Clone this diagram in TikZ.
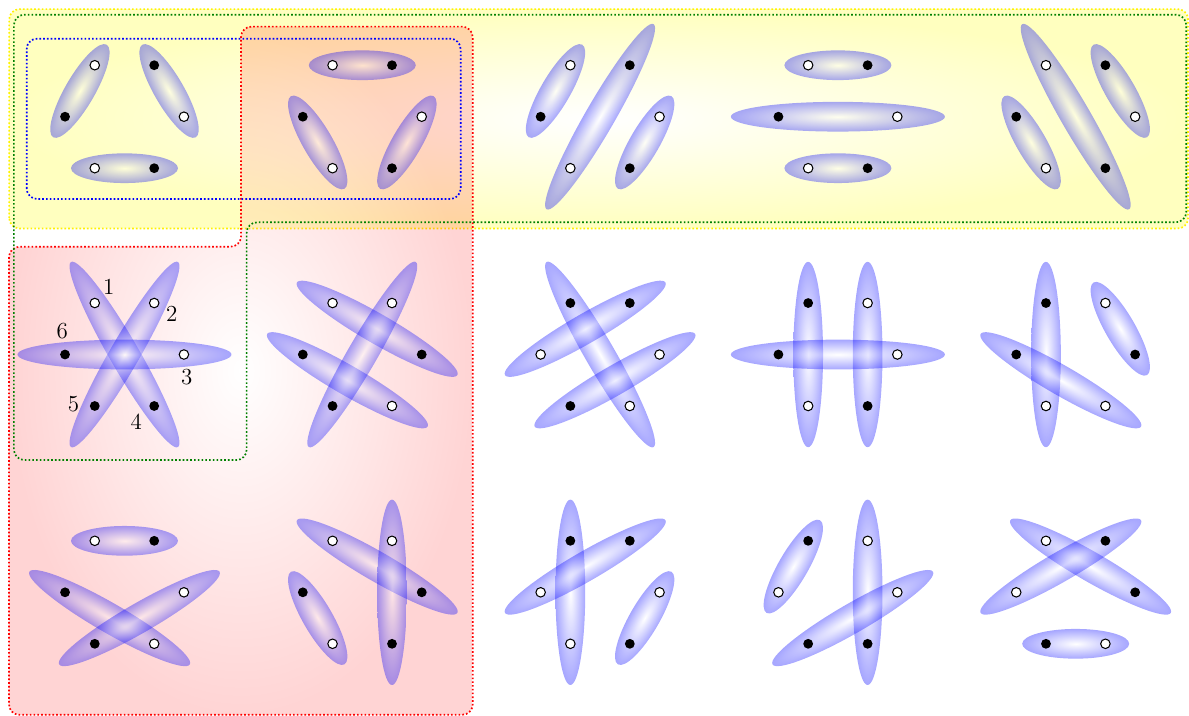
\documentclass[tikz,border=0pt]{standalone}
\usetikzlibrary{calc}

\pgfdeclarelayer{regions}
\pgfdeclarelayer{pairs}
\pgfsetlayers{regions,pairs,main}

\makeatletter
\newcommand{\pairup}[2]{%
  \pgfpointdiff{\pgfpointanchor{#1}{center}}{\pgfpointanchor{#2}{center}}%
  \edef\pairdx{\the\pgf@x}\edef\pairdy{\the\pgf@y}%
  \pgfmathsetmacro\pairlen{veclen(\pairdx,\pairdy)}%
  \pgfmathanglebetweenpoints{\pgfpointanchor{#1}{center}}{\pgfpointanchor{#2}{center}}%
  \let\pairang\pgfmathresult
  \coordinate (mid) at ($(#1.center)!.5!(#2.center)$);
  \shade[pair,transform canvas={shift={(mid)},rotate=\pairang}] (0,0) ellipse ({0.9pt*\pairlen} and 0.25cm);
}
\makeatother

\begin{document}
\begin{tikzpicture}[
  region/.style={rounded corners=5pt,thick,densely dotted},
  pair/.style={inner color=white,outer color=blue,fill opacity=0.35},
  dotW/.style={circle,draw=black,line width=0.5pt,fill=white,inner sep=0pt,minimum size=1.6mm},
  dotB/.style={circle,fill=black,inner sep=0pt,minimum size=1.65mm},
  num/.style={font=\fontsize{11}{13}\selectfont}
]
  \useasboundingbox (-2.094,-10.08) rectangle (17.906,1.963);

  \begin{pgfonlayer}{regions}
    \shade[region,draw=yellow,inner color=white,outer color=yellow,fill opacity=0.25]
      (-1.94,-1.88) rectangle (17.89,1.81);
    \shade[region,draw=red,inner color=white,outer color=red,fill opacity=0.17]
      (3.9,1.515) -| (5.857,-10.06) -| (-1.943,-2.187) -| (1.96,1.515) -- cycle;
    \draw[region,green!50!black]
      (8,1.716) -| (17.86,-1.776) -| (2.055,-5.775) -| (-1.86,1.716) -- cycle;
    \draw[region,blue] (-1.645,-1.384) rectangle (5.655,1.312);
  \end{pgfonlayer}

  \foreach \col/\row/\cols/\prs in {
    1/1/{W,B,W,B,W,B}/{1/6,2/3,5/4},
    2/1/{W,B,W,B,W,B}/{1/2,6/5,3/4},
    3/1/{W,B,W,B,W,B}/{1/6,2/5,3/4},
    4/1/{W,B,W,B,W,B}/{1/2,6/3,5/4},
    5/1/{W,B,W,B,W,B}/{1/4,2/3,6/5},
    1/2/{W,W,W,B,B,B}/{1/4,2/5,3/6},
    2/2/{W,W,B,W,B,B}/{1/3,6/4,5/2},
    3/2/{B,B,W,W,B,W}/{1/4,6/2,5/3},
    4/2/{B,W,W,B,W,B}/{1/5,2/4,6/3},
    5/2/{B,W,B,W,W,B}/{1/5,2/3,6/4},
    1/3/{W,B,W,W,B,B}/{1/2,6/4,5/3},
    2/3/{W,W,B,B,W,B}/{1/3,2/4,6/5},
    3/3/{B,B,W,B,W,W}/{1/5,6/2,3/4},
    4/3/{B,W,W,B,B,W}/{1/6,2/4,5/3},
    5/3/{W,B,B,W,B,W}/{1/3,6/2,5/4}}{
    \foreach \clr [count=\k] in \cols
      \node[dot\clr] (r\row c\col-\k) at ([shift={(4*\col-4,4-4*\row)}]180-60*\k:1) {};
    \begin{pgfonlayer}{pairs}
      \foreach \a/\b in \prs {\pairup{r\row c\col-\a}{r\row c\col-\b}}
    \end{pgfonlayer}
  }

  \node[num] (n1) at ($(r2c1-1)+(49:0.36)$) {1};
  \node[num] (n2) at ($(r2c1-2)+(-32:0.35)$) {2};
  \node[num] (n3) at ($(r2c1-3)+(-83:0.39)$) {3};
  \node[num] (n4) at ($(r2c1-4)+(-139:0.40)$) {4};
  \node[num] (n5) at ($(r2c1-5)+(175:0.36)$) {5};
  \node[num] (n6) at ($(r2c1-6)+(97:0.39)$) {6};
\end{tikzpicture}
\end{document}
